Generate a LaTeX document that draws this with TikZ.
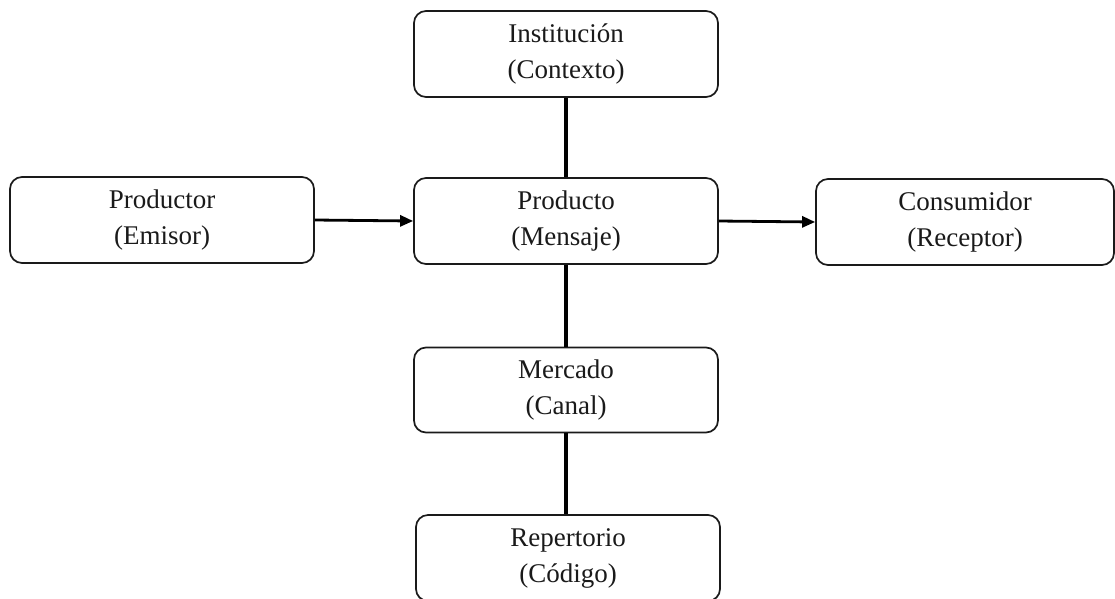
\documentclass[tikz,border=0pt]{standalone}
\usepackage{fontspec}
\setmainfont{Liberation Serif}
\usetikzlibrary{positioning,arrows.meta}
\definecolor{inkBlack}{HTML}{1A1A1A}
\tikzset{
    stage/.style={draw=inkBlack,fill=white,rounded corners=12pt,line width=1.7pt,
        minimum width=304pt,minimum height=86pt,align=center,
        font=\fontsize{27}{36}\selectfont,text=inkBlack},
    arrow/.style={-{Triangle[length=13pt,width=11pt]},draw=black,line width=2.8pt},
    link/.style={draw=black,line width=3.4pt}
}
\begin{document}
\begin{tikzpicture}[x=1pt,y=-1pt]
    \useasboundingbox (0,0) rectangle (1115,598);
    \node[stage] (inst) at (566,54) {Institución\\(Contexto)};
    \node[stage] (prod) at (162,220) {Productor\\(Emisor)};
    \node[stage] (msg) at (566,221) {Producto\\(Mensaje)};
    \node[stage,minimum width=298pt] (cons) at (965,222) {Consumidor\\(Receptor)};
    \node[stage,minimum height=85pt] (merc) at (566,390) {Mercado\\(Canal)};
    \node[stage] (rep) at (568,558) {Repertorio\\(Código)};
    \draw[arrow] (prod.east) -- (msg.west);
    \draw[arrow] (msg.east) -- (cons.west);
    \draw[link] (inst.south) -- (msg.north);
    \draw[link] (msg.south) -- (merc.north);
    \draw[link] (merc.south) -- (merc.south |- rep.north);
\end{tikzpicture}
\end{document}
